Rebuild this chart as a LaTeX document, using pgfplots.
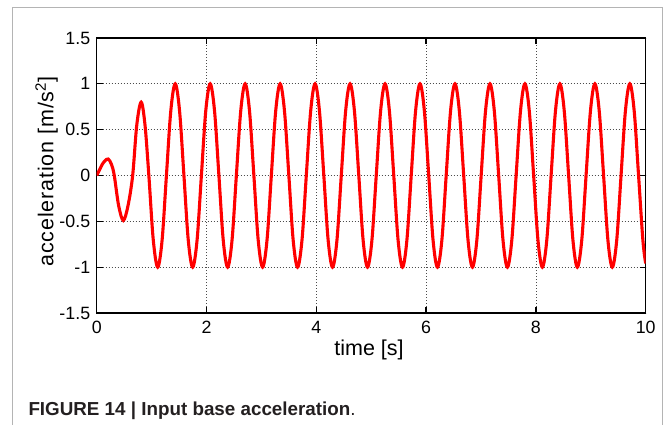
\documentclass[border=0pt]{standalone}
\usepackage{pgfplots}
\pgfplotsset{compat=1.18}
\usepackage{fontspec}
\setmainfont{Liberation Sans}
\definecolor{framegray}{HTML}{B4B4B4}
\definecolor{captxt}{HTML}{231F20}
\newcommand{\tickfont}{\fontsize{17.8}{20}\selectfont}
\begin{document}
\begin{tikzpicture}[x=1pt,y=1pt]
\useasboundingbox (0,0) rectangle (665,425);
\draw[framegray, line width=1.2pt] (12.7,0) -- (12.7,417.7) -- (662.7,417.7) -- (662.7,0);
\node[anchor=base west, inner sep=0pt, text=captxt, font=\fontsize{18.8}{20}\selectfont] at (28.3,9) {\textbf{FIGURE 14 | Input base acceleration}.};
\begin{axis}[
  at={(96.7pt,112pt)}, anchor=south west,
  scale only axis, width=549pt, height=275pt,
  xmin=0, xmax=10, ymin=-1.5, ymax=1.5,
  xtick={0,2,4,6,8,10}, ytick={-1.5,-1,-0.5,0,0.5,1,1.5},
  yticklabels={-1.5,-1,-0.5,0,0.5,1,1.5},
  xticklabels={0,2,4,6,8,10},
  tick align=inside, major tick length=6pt,
  xtick pos=both, ytick pos=both,
  axis line style={line width=1.3pt},
  every tick/.style={black, line width=1.3pt},
  grid=major,
  major grid style={black!70, line width=0.7pt, dash pattern=on 0.8pt off 2.2pt},
  xticklabel style={font=\tickfont, yshift=-4.5pt},
  yticklabel style={font=\tickfont, xshift=-3pt},
  xlabel style={font=\fontsize{21.5}{22}\selectfont, at={(axis description cs:0.496,-0.156)}, anchor=base},
  ylabel style={font=\fontsize{21.5}{22}\selectfont\addfontfeatures{LetterSpace=4}, at={(axis description cs:-0.079,0.5145)}, anchor=base},
  xlabel={time [s]}, ylabel={acceleration [m/s\textsuperscript{2}]},
  /pgf/number format/assume math mode=true,
]
\addplot[red, line width=3.1pt, smooth, tension=0.55] coordinates {
(0,0) (0.05,0.06) (0.10,0.12) (0.15,0.16) (0.21,0.18) (0.27,0.12) (0.32,0.0)
(0.40,-0.33) (0.485,-0.49) (0.57,-0.33) (0.655,0.0) (0.73,0.55) (0.81,0.80)
(0.88,0.55) (0.95,0.0) (1.03,-0.70)
(1.111,-1) (1.191,-0.707) (1.270,0) (1.350,0.707) (1.430,1) (1.509,0.707) (1.589,0) (1.668,-0.707)
(1.748,-1) (1.828,-0.707) (1.907,0) (1.987,0.707) (2.067,1) (2.146,0.707) (2.226,0) (2.305,-0.707)
(2.385,-1) (2.465,-0.707) (2.544,0) (2.624,0.707) (2.704,1) (2.783,0.707) (2.863,0) (2.942,-0.707)
(3.022,-1) (3.102,-0.707) (3.181,0) (3.261,0.707) (3.341,1) (3.420,0.707) (3.500,0) (3.579,-0.707)
(3.659,-1) (3.739,-0.707) (3.818,0) (3.898,0.707) (3.978,1) (4.057,0.707) (4.137,0) (4.216,-0.707)
(4.296,-1) (4.376,-0.707) (4.455,0) (4.535,0.707) (4.615,1) (4.694,0.707) (4.774,0) (4.853,-0.707)
(4.933,-1) (5.013,-0.707) (5.092,0) (5.172,0.707) (5.252,1) (5.331,0.707) (5.411,0) (5.490,-0.707)
(5.570,-1) (5.650,-0.707) (5.729,0) (5.809,0.707) (5.889,1) (5.968,0.707) (6.048,0) (6.127,-0.707)
(6.207,-1) (6.287,-0.707) (6.366,0) (6.446,0.707) (6.526,1) (6.605,0.707) (6.685,0) (6.764,-0.707)
(6.844,-1) (6.924,-0.707) (7.003,0) (7.083,0.707) (7.163,1) (7.242,0.707) (7.322,0) (7.401,-0.707)
(7.481,-1) (7.561,-0.707) (7.640,0) (7.720,0.707) (7.800,1) (7.879,0.707) (7.959,0) (8.038,-0.707)
(8.118,-1) (8.198,-0.707) (8.277,0) (8.357,0.707) (8.437,1) (8.516,0.707) (8.596,0) (8.675,-0.707)
(8.755,-1) (8.835,-0.707) (8.914,0) (8.994,0.707) (9.074,1) (9.153,0.707) (9.233,0) (9.312,-0.707)
(9.392,-1) (9.472,-0.707) (9.551,0) (9.631,0.707) (9.711,1) (9.790,0.707) (9.870,0) (9.949,-0.707)
(10.000,-0.96)
};
\end{axis}
\end{tikzpicture}
\end{document}
